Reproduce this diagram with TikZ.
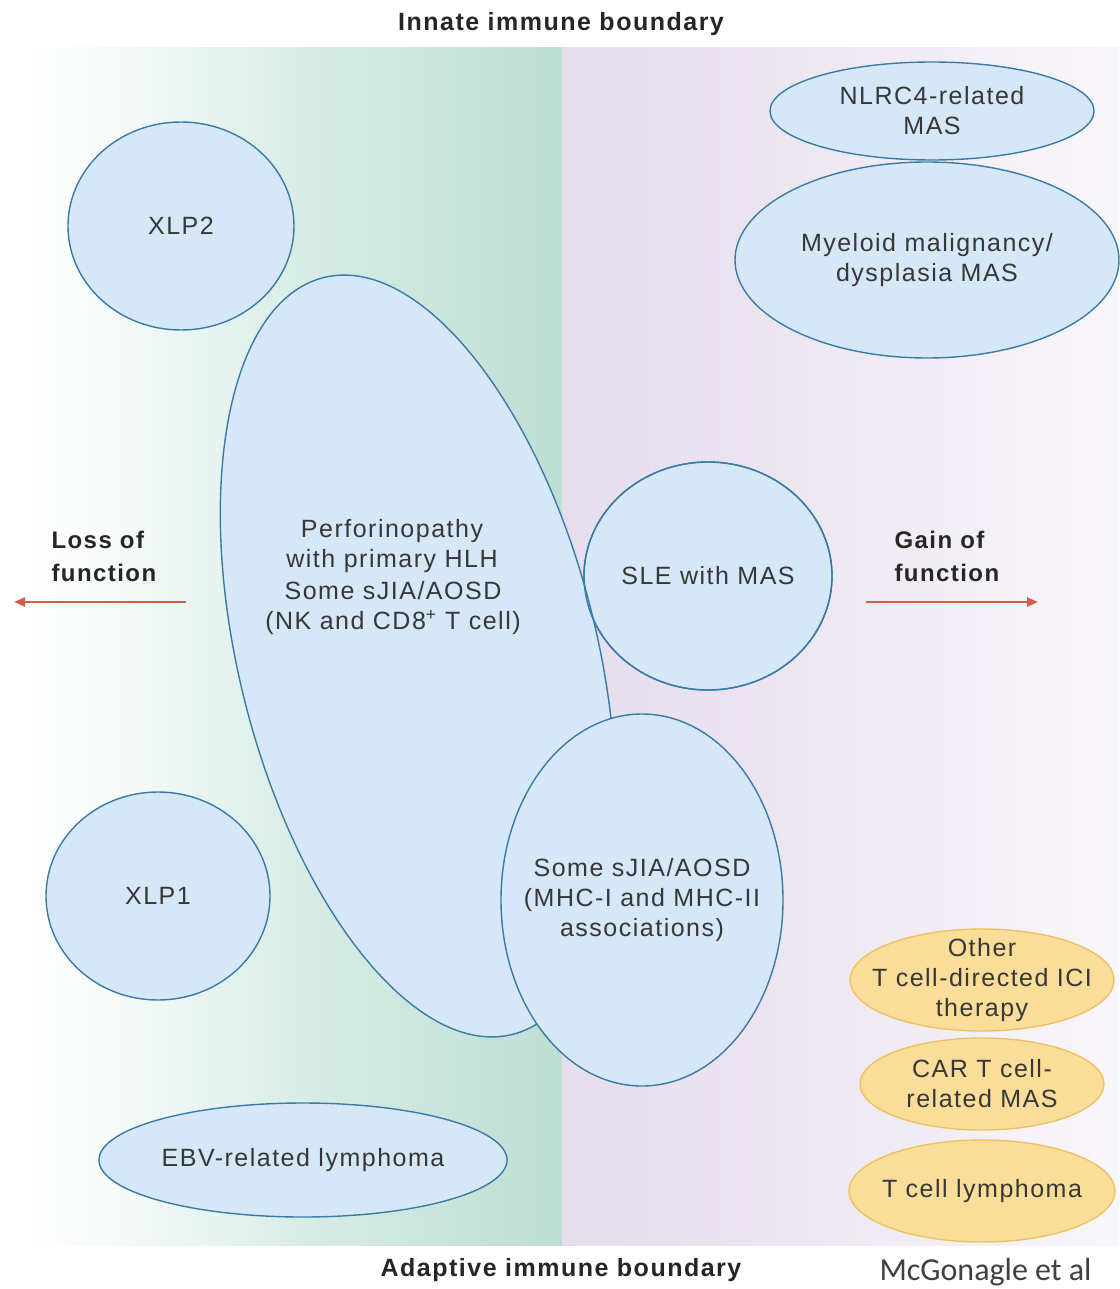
\documentclass[tikz,border=0pt]{standalone}
\usepackage{fontspec}
\setmainfont{Liberation Sans}[LetterSpace=6]
\newfontfamily\creditfont{Carlito}
\usetikzlibrary{shapes.geometric,arrows.meta}
\definecolor{ellfill}{RGB}{214,232,248}
\definecolor{ellline}{RGB}{58,122,166}
\definecolor{orfill}{RGB}{250,221,152}
\definecolor{orline}{RGB}{238,194,100}
\definecolor{arrowc}{RGB}{212,92,72}
\definecolor{txt}{RGB}{55,55,55}
\definecolor{tealA}{RGB}{246,250,249}
\definecolor{tealB}{RGB}{214,236,228}
\definecolor{tealC}{RGB}{190,222,212}
\definecolor{lavA}{RGB}{229,221,236}
\definecolor{lavB}{RGB}{238,232,242}
\definecolor{lavC}{RGB}{249,247,251}
\pgfdeclarehorizontalshading{leftbg}{100bp}{color(0bp)=(white); color(25bp)=(white); color(34bp)=(tealA); color(52bp)=(tealB); color(75bp)=(tealC); color(100bp)=(tealC)}
\pgfdeclarehorizontalshading{rightbg}{100bp}{color(0bp)=(lavA); color(25bp)=(lavA); color(50bp)=(lavB); color(75bp)=(lavC); color(100bp)=(lavC)}
\tikzset{
  blob/.style={ellipse, fill=ellfill, draw=ellline, line width=1.4pt, inner sep=0pt, outer sep=0pt},
  orblob/.style={ellipse, fill=orfill, draw=orline, line width=1.4pt, inner sep=0pt, outer sep=0pt},
  lbl/.style={text=txt, align=center, font=\fontsize{25}{30}\selectfont},
  head/.style={text=black!85, font=\bfseries\fontsize{25}{30}\selectfont},
  side/.style={text=black!85, align=left, font=\bfseries\fontsize{24}{33}\selectfont, anchor=west},
  dirarrow/.style={draw=arrowc, line width=2.4pt, -{Triangle[length=11pt,width=9pt]}}
}
\begin{document}
\begin{tikzpicture}[x=1pt,y=-1pt]
\useasboundingbox (0,0) rectangle (1119,1289);
\fill[white] (0,0) rectangle (1119,1289);
% background panels
\shade[shading=leftbg] (20,48) rectangle (562,1245);
\shade[shading=rightbg] (562,48) rectangle (1119,1245);
% titles
\node[head] (innate) at (561,24) {Innate immune boundary};
\node[head] (adaptive) at (561,1270) {Adaptive immune boundary};
\node[anchor=base west, text=black!75, font=\creditfont\fontsize{32}{36}\selectfont] (credit) at (876,1280) {McGonagle et al};
% top-left / right
\node[blob, minimum width=226pt, minimum height=208pt] (xlp2) at (181,226) {};
\node[lbl] (xlp2t) at (xlp2.center) {XLP2};
\node[blob, minimum width=324pt, minimum height=98pt] (nlrc) at (932,111) {};
\node[lbl] (nlrct) at (nlrc.center) {NLRC4-related\\MAS};
\node[blob, minimum width=384pt, minimum height=196pt] (myel) at (927,260) {};
\node[lbl] (myelt) at (myel.center) {Myeloid malignancy/\\dysplasia MAS};
% SLE under perforinopathy
\node[blob, minimum width=248pt, minimum height=228pt] (sle) at (708,576) {};
\node[blob, minimum width=358pt, minimum height=780pt, rotate=14] (perf) at (418,656) {};
\draw[ellline, line width=1.4pt] (sle.center) ellipse [x radius=124, y radius=114];
\node[lbl] (sletxt) at (sle.center) {SLE with MAS};
\node[lbl] (perftxt) at (392,546) {Perforinopathy\\with primary HLH};
\node[lbl] (perftxt2) at (393,608) {Some sJIA/AOSD\\(NK and CD8\textsuperscript{+} T cell)};
% MHC sJIA
\node[blob, minimum width=282pt, minimum height=372pt] (mhc) at (642,900) {};
\node[lbl] (mhct) at (mhc.center) {Some sJIA/AOSD\\(MHC-I and MHC-II\\associations)};
% bottom left
\node[blob, minimum width=224pt, minimum height=208pt] (xlp1) at (158,896) {};
\node[lbl] (xlp1t) at (xlp1.center) {XLP1};
\node[blob, minimum width=408pt, minimum height=114pt] (ebv) at (303,1160) {};
\node[lbl] (ebvt) at (ebv.center) {EBV-related lymphoma};
% orange
\node[orblob, minimum width=264pt, minimum height=102pt] (ici) at (982,980) {};
\node[lbl] (icit) at (ici.center) {Other\\T cell-directed ICI\\therapy};
\node[orblob, minimum width=244pt, minimum height=92pt] (cart) at (982,1084) {};
\node[lbl] (cartt) at (cart.center) {CAR T cell-\\related MAS};
\node[orblob, minimum width=266pt, minimum height=102pt] (tcl) at (982,1191) {};
\node[lbl] (tclt) at (tcl.center) {T cell lymphoma};
% direction arrows
\node[side] (loss) at (48,556) {Loss of\\function};
\node[side] (gain) at (891,556) {Gain of\\function};
\coordinate (lossS) at (186,602);
\coordinate (lossE) at (14,602);
\coordinate (gainS) at (866,602);
\coordinate (gainE) at (1038,602);
\draw[dirarrow] (lossS) -- (lossE);
\draw[dirarrow] (gainS) -- (gainE);
\end{tikzpicture}
\end{document}
